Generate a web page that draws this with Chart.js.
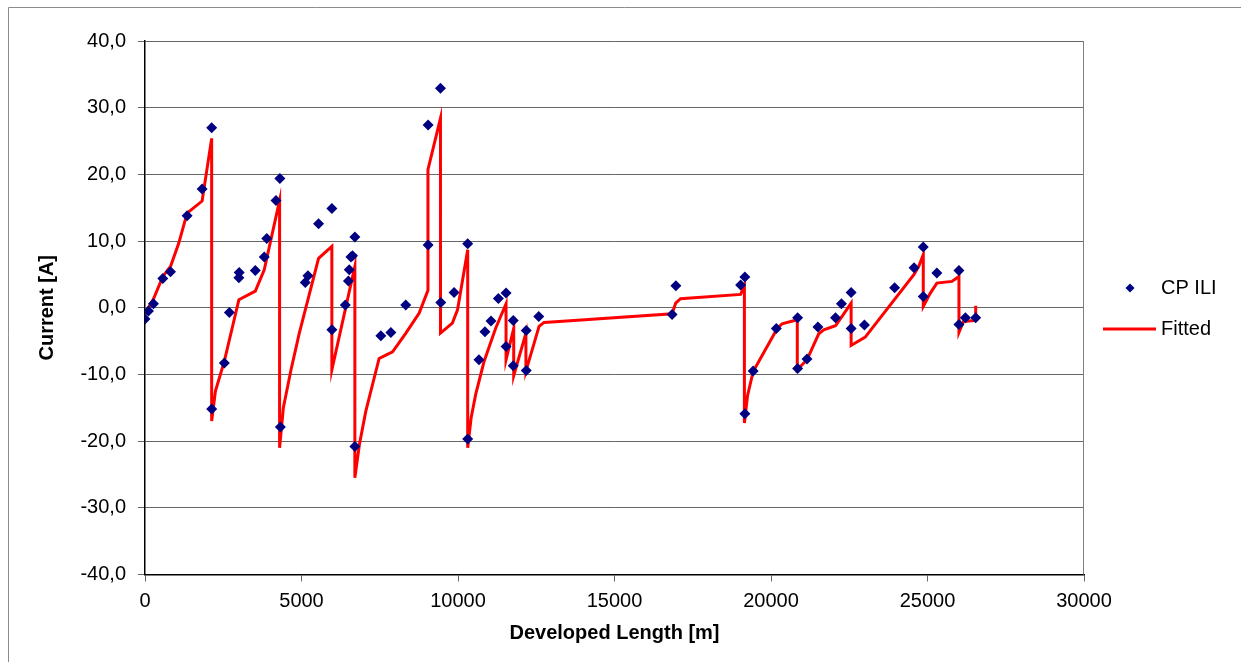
<!DOCTYPE html>
<html>
<head>
<meta charset="utf-8">
<script src="https://cdn.jsdelivr.net/npm/chart.js@4.4.0/dist/chart.umd.min.js"></script>
<style>
  html, body { margin: 0; padding: 0; background: #ffffff; }
  #wrap { position: relative; width: 1241px; height: 662px; }
</style>
</head>
<body>
<div id="wrap"><canvas id="c" width="1241" height="662"></canvas></div>
<script>
// ---- Data ----
const iliX = [0, 110, 270, 570, 815, 1345, 1825, 2130, 2130, 2535, 2695, 3000, 3010, 3525, 3810, 3890, 4185, 4310, 4325,
  5120, 5205, 5545, 5970, 5970, 6400, 6500, 6525, 6580, 6630, 6705, 6705, 7535, 7855, 8330, 9045, 9045, 9440, 9450,
  9875, 10310, 10310, 10670, 10860, 11055, 11290, 11535, 11535, 11765, 11765, 12180, 12180, 12580, 16840, 16960,
  19030, 19165, 19165, 19430, 20170, 20850, 20850, 21150, 21500, 22060, 22250, 22560, 22560, 22985, 23950, 24570,
  24865, 24865, 25300, 26005, 26005, 26210, 26540];
const iliY = [-1.7, -0.5, 0.6, 4.4, 5.4, 13.8, 17.8, 27.0, -15.2, -8.3, -0.7, 4.5, 5.3, 5.6, 7.6, 10.4, 16.1, 19.4, -17.9,
  3.8, 4.8, 12.6, 14.9, -3.3, 0.4, 4.0, 5.7, 7.6, 7.8, 10.6, -20.8, -4.2, -3.7, 0.4, 27.4, 9.4, 32.9, 0.8,
  2.3, 9.6, -19.7, -7.8, -3.6, -2.0, 1.4, 2.2, -5.8, -1.9, -8.7, -3.4, -9.4, -1.3, -1.0, 3.3,
  3.4, 4.6, -15.9, -9.5, -3.1, -1.5, -9.1, -7.7, -2.9, -1.5, 0.6, 2.3, -3.1, -2.6, 3.0, 6.0,
  9.1, 1.7, 5.2, 5.6, -2.5, -1.5, -1.5];

const fitX = [0, 110, 270, 570, 815, 1080, 1345, 1825, 2130, 2130, 2250, 2535, 3000, 3525, 3810, 4300, 4300, 4420, 4665,
  4930, 5545, 5970, 5970, 6705, 6705, 6850, 7055, 7480, 7695, 7910, 8335, 8760, 9040, 9040, 9440, 9440, 9820, 9985,
  10310, 10310, 10420, 10565, 10830, 11200, 11535, 11535, 11780, 11780, 12170, 12170, 12590, 12750, 13230, 16840,
  16955, 17110, 19030, 19150, 19150, 19250, 19430, 20195, 20355, 20840, 20840, 21150, 21525, 21685, 22060, 22270,
  22560, 22560, 23010, 24570, 24720, 24865, 24865, 25090, 25300, 25780, 26005, 26005, 26150, 26540, 26540];
const fitY = [-1.0, 0.0, 1.3, 4.7, 6.2, 9.7, 14.2, 16.0, 25.4, -17.0, -12.5, -8.0, 1.2, 2.5, 5.7, 16.1, -21.0, -15.0, -9.3,
  -3.8, 7.4, 9.2, -9.3, 6.2, -25.5, -20.5, -15.5, -7.6, -7.1, -6.6, -3.8, -0.8, 2.6, 20.7, 28.4, -3.8, -2.3, -0.3,
  8.7, -21.0, -16.5, -13.0, -8.1, -3.1, 0.6, -7.8, -3.1, -10.2, -3.8, -9.5, -2.8, -2.2, -2.05, -0.9,
  0.7, 1.35, 2.0, 3.3, -17.3, -13.2, -9.55, -3.15, -2.4, -1.8, -9.3, -7.8, -3.9, -3.3, -2.7, -1.3,
  0.7, -5.65, -4.4, 5.0, 6.2, 7.95, 0.2, 2.2, 3.7, 3.95, 4.7, -3.7, -2.05, -1.9, 0.3];

const xTicks = [0, 5000, 10000, 15000, 20000, 25000, 30000];
const yTicks = [-40, -30, -20, -10, 0, 10, 20, 30, 40];
const seriesNames = ['CP ILI', 'Fitted'];

const iliPts = iliX.map((x, i) => ({ x: x, y: iliY[i] }));
const fitPts = fitX.map((x, i) => ({ x: x, y: fitY[i] }));

const FONT = 'Arial, "Liberation Sans", sans-serif';

const decorPlugin = {
  id: 'decor',
  beforeDraw(chart) {
    const ctx = chart.ctx;
    ctx.save();
    ctx.fillStyle = '#ffffff';
    ctx.fillRect(0, 0, chart.width, chart.height);
    // outer frame (left & top edges visible)
    ctx.strokeStyle = '#8c8c8c';
    ctx.lineWidth = 1;
    ctx.beginPath();
    ctx.moveTo(8.5, 662);
    ctx.lineTo(8.5, 7.5);
    ctx.lineTo(1241, 7.5);
    ctx.stroke();
    ctx.restore();
  },
  afterDraw(chart) {
    const ctx = chart.ctx;
    const a = chart.chartArea;
    ctx.save();
    // right border of plot area
    ctx.strokeStyle = '#808080';
    ctx.lineWidth = 1;
    ctx.beginPath();
    ctx.moveTo(Math.round(a.right) - 0.5, a.top);
    ctx.lineTo(Math.round(a.right) - 0.5, a.bottom);
    ctx.stroke();

    // legend
    const ds = chart.data.datasets;
    ctx.font = '20px ' + FONT;
    ctx.textBaseline = 'middle';
    ctx.textAlign = 'left';
    // diamond
    const dx = 1130, dy = 288;
    ctx.fillStyle = ds[0].backgroundColor;
    ctx.beginPath();
    ctx.moveTo(dx, dy - 4.5);
    ctx.lineTo(dx + 4.5, dy);
    ctx.lineTo(dx, dy + 4.5);
    ctx.lineTo(dx - 4.5, dy);
    ctx.closePath();
    ctx.fill();
    ctx.fillStyle = '#000000';
    ctx.fillText(ds[0].label, 1161, dy);
    // line
    const ly = 329;
    ctx.strokeStyle = ds[1].borderColor;
    ctx.lineWidth = 3;
    ctx.beginPath();
    ctx.moveTo(1103, ly);
    ctx.lineTo(1156, ly);
    ctx.stroke();
    ctx.fillText(ds[1].label, 1161, ly);
    ctx.restore();
  }
};

new Chart(document.getElementById('c'), {
  type: 'scatter',
  data: {
    datasets: [
      {
        label: seriesNames[0],
        data: iliPts,
        showLine: false,
        pointStyle: 'rectRot',
        pointRadius: 5.5,
        pointHoverRadius: 5.5,
        backgroundColor: '#000080',
        borderColor: '#000080',
        borderWidth: 0
      },
      {
        label: seriesNames[1],
        data: fitPts,
        showLine: true,
        pointRadius: 0,
        pointHoverRadius: 0,
        borderColor: '#ff0000',
        backgroundColor: '#ff0000',
        borderWidth: 3,
        tension: 0
      }
    ]
  },
  options: {
    responsive: false,
    animation: false,
    devicePixelRatio: 1,
    layout: { padding: { left: 0, top: 41, right: 157, bottom: 0 } },
    plugins: {
      legend: { display: false },
      tooltip: { enabled: false }
    },
    scales: {
      x: {
        type: 'linear',
        min: 0,
        max: 30000,
        afterFit(s) { s.height = 87.5; },
        afterBuildTicks(s) { s.ticks = xTicks.map(v => ({ value: v })); },
        ticks: {
          color: '#000000',
          font: { family: FONT, size: 20 },
          padding: 8,
          maxRotation: 0,
          callback: v => String(v)
        },
        grid: {
          display: true,
          drawOnChartArea: false,
          drawTicks: true,
          tickLength: 7,
          color: '#666666'
        },
        border: { display: true, color: '#000000', width: 1.5 },
        title: {
          display: true,
          text: 'Developed Length [m]',
          color: '#000000',
          font: { family: FONT, size: 20, weight: 'bold' },
          padding: { top: 0, bottom: 17 }
        }
      },
      y: {
        type: 'linear',
        min: -40,
        max: 40,
        afterFit(s) { s.width = 145; },
        afterBuildTicks(s) { s.ticks = yTicks.map(v => ({ value: v })); },
        ticks: {
          color: '#000000',
          font: { family: FONT, size: 20 },
          padding: 12,
          callback: v => Number(v).toFixed(1).replace('.', ',')
        },
        grid: {
          display: true,
          drawOnChartArea: true,
          drawTicks: true,
          tickLength: 7,
          color: '#666666',
          lineWidth: 1
        },
        border: { display: true, color: '#000000', width: 1.5 },
        title: {
          display: true,
          text: 'Current [A]',
          color: '#000000',
          font: { family: FONT, size: 20, weight: 'bold' },
          padding: { top: 35, bottom: 0 }
        }
      }
    }
  },
  plugins: [decorPlugin]
});
</script>
</body>
</html>
